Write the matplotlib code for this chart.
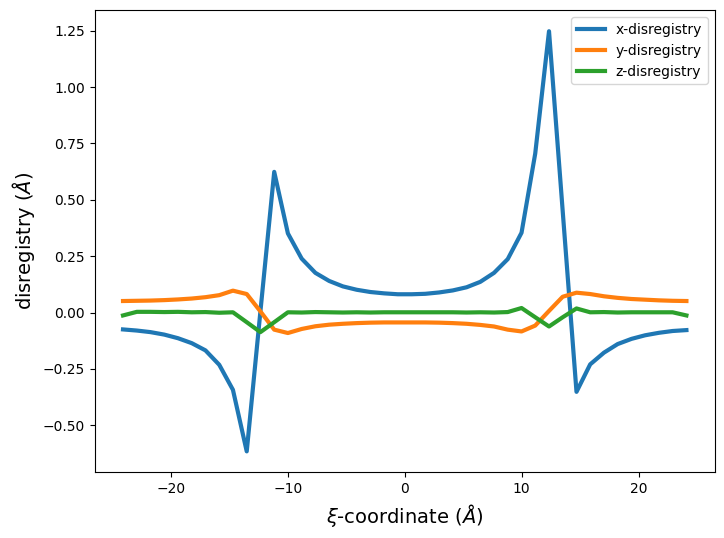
import matplotlib.pyplot as plt

# grid positions along the dislocation line (Angstrom)
xi = [-24.09, -22.91, -21.74, -20.56, -19.39, -18.21, -17.04, -15.86, -14.69, -13.51,
      -12.34, -11.16, -9.99, -8.81, -7.64, -6.46, -5.29, -4.11, -2.94, -1.76,
      -0.59, 0.59, 1.76, 2.94, 4.11, 5.29, 6.46, 7.64, 8.81, 9.99,
      11.16, 12.34, 13.51, 14.69, 15.86, 17.04, 18.21, 19.39, 20.56, 21.74,
      22.91, 24.09]

x_dis = [-0.075, -0.080, -0.087, -0.098, -0.114, -0.136, -0.168, -0.232, -0.343, -0.616,
         0.005, 0.624, 0.351, 0.239, 0.176, 0.140, 0.116, 0.101, 0.091, 0.085,
         0.081, 0.081, 0.083, 0.089, 0.098, 0.112, 0.136, 0.176, 0.237, 0.354,
         0.705, 1.248, 0.450, -0.352, -0.230, -0.178, -0.140, -0.117, -0.101, -0.090,
         -0.082, -0.078]

y_dis = [0.051, 0.052, 0.053, 0.055, 0.058, 0.062, 0.068, 0.077, 0.097, 0.082,
         0.005, -0.076, -0.091, -0.073, -0.061, -0.054, -0.050, -0.047, -0.045, -0.044,
         -0.044, -0.044, -0.044, -0.045, -0.047, -0.050, -0.055, -0.062, -0.076, -0.084,
         -0.058, 0.007, 0.070, 0.088, 0.082, 0.072, 0.065, 0.060, 0.057, 0.054,
         0.052, 0.051]

z_dis = [-0.013, 0.003, 0.003, 0.002, 0.003, 0.001, 0.002, -0.001, 0.001, -0.043,
         -0.087, -0.043, 0.001, 0.000, 0.002, 0.001, 0.000, 0.001, 0.000, 0.001,
         0.001, 0.001, 0.001, 0.001, 0.001, 0.000, 0.001, 0.000, 0.002, 0.020,
         -0.021, -0.062, -0.021, 0.018, 0.001, 0.002, 0.000, 0.001, 0.001, 0.001,
         0.001, -0.013]

fig = plt.figure(figsize=(7.24, 5.38), dpi=100)
ax = fig.add_subplot(111)
fig.subplots_adjust(left=0.131, right=0.987, top=0.981, bottom=0.122)

ax.plot(xi, x_dis, label='x-disregistry', linewidth=3)
ax.plot(xi, y_dis, label='y-disregistry', linewidth=3)
ax.plot(xi, z_dis, label='z-disregistry', linewidth=3)

ax.set_xlabel(r'$\xi$-coordinate ($\AA$)', fontsize=14)
ax.set_ylabel(r'disregistry ($\AA$)', fontsize=14)
ax.legend(loc='upper right')

fig.savefig('out.png', dpi=100)
